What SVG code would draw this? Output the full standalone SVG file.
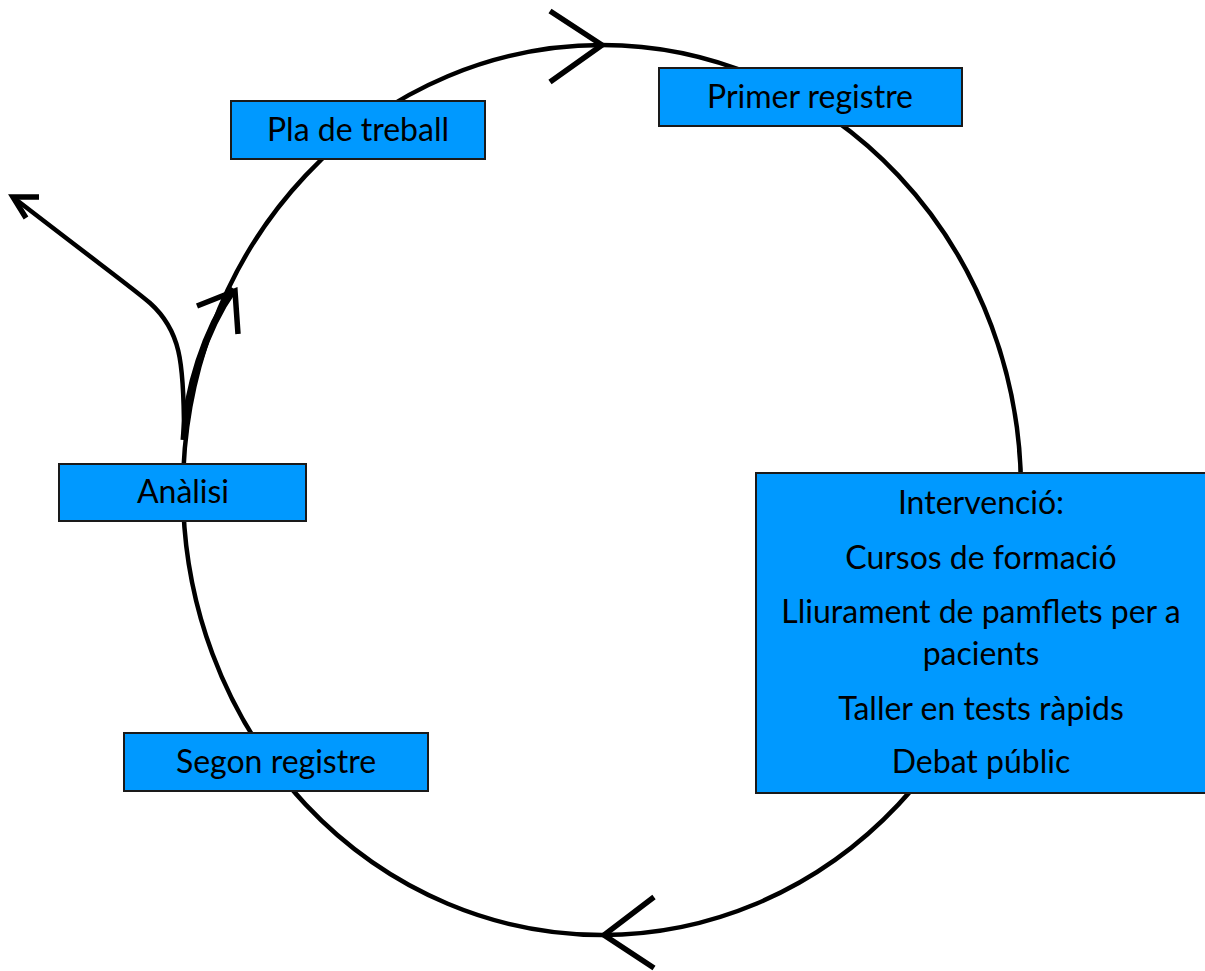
<svg xmlns="http://www.w3.org/2000/svg" width="1205" height="971" viewBox="0 0 1205 971">
<style>
.box{fill:#0099ff;stroke:#1a1a1a;stroke-width:2}
.t{font-family:Lato,"Open Sans","Liberation Sans",sans-serif;font-size:32px;fill:#000;text-anchor:middle}
.ln{fill:none;stroke:#000;stroke-width:4.5;stroke-linecap:butt;stroke-linejoin:miter}
.ah{fill:none;stroke:#000;stroke-width:5.5;stroke-linecap:butt;stroke-linejoin:miter}
</style>
<rect width="1205" height="971" fill="#fff"/>
<g id="connectors">
<ellipse class="ln" cx="602" cy="490" rx="419" ry="445"/>
<polyline class="ah" points="550,11 602,45 550,82"/>
<polyline class="ah" points="654,897 604,935 654,968"/>
<path class="ln" style="stroke-width:7" d="M184,440 C186,390 205,330 234,289"/>
<polyline class="ah" points="197,306 235,291 238,334"/>
<path class="ln" d="M184,433 C184,360 180,330 150,303 C135,290 110,272 14,198"/>
<polyline class="ah" points="39,197 13,197 26,218"/>
</g>
<g id="pla">
<rect class="box" x="231" y="101" width="254" height="58"/>
<text class="t" x="358" y="141">Pla de treball</text>
</g>
<g id="primer">
<rect class="box" x="659" y="68" width="303" height="58"/>
<text class="t" x="810" y="108">Primer registre</text>
</g>
<g id="analisi">
<rect class="box" x="59" y="464" width="247" height="57"/>
<text class="t" x="183" y="503">Anàlisi</text>
</g>
<g id="segon">
<rect class="box" x="124" y="733" width="304" height="58"/>
<text class="t" x="276" y="773">Segon registre</text>
</g>
<g id="intervencio">
<rect class="box" x="756" y="473" width="452" height="320"/>
<text class="t" x="981" y="514">Intervenció:</text>
<text class="t" x="981" y="569">Cursos de formació</text>
<text class="t" x="981" y="623">Lliurament de pamflets per a</text>
<text class="t" x="981" y="665">pacients</text>
<text class="t" x="981" y="720">Taller en tests ràpids</text>
<text class="t" x="981" y="773">Debat públic</text>
</g>
</svg>
